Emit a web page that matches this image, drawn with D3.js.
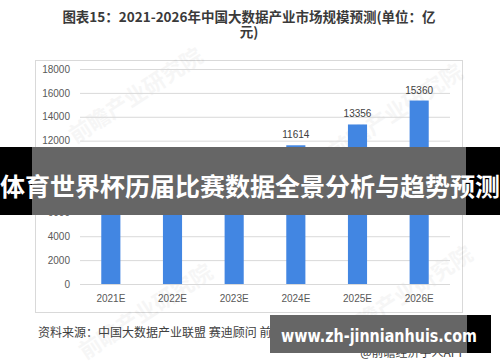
<!DOCTYPE html>
<html>
<head>
<meta charset="utf-8">
<script src="https://cdn.jsdelivr.net/npm/d3@7"></script>
<style>
  body { margin: 0; background: #fff; }
  svg { display: block; }
</style>
</head>
<body>
<svg id="chart" width="500" height="362"></svg>
<script>
// data (2021E is hidden under the banner, estimated)
var years = ["2021E", "2022E", "2023E", "2024E", "2025E", "2026E"];
var values = [7630, 8774, 10099, 11614, 13356, 15360];
var yTicks = [0, 2000, 4000, 6000, 8000, 10000, 12000, 14000, 16000, 18000];

var titleLines = ["图表15：2021-2026年中国大数据产业市场规模预测(单位：亿", "元)"];
var sourceText = "资料来源：中国大数据产业联盟 赛迪顾问 前瞻产业研究院整理";
var bannerText = "体育世界杯历届比赛数据全景分析与趋势预测";
var siteText = "www.zh-jinnianhuis.com";

var cjk = "'Noto Sans CJK SC', 'Noto Sans', sans-serif";
var barColor = "#4286e2";

var svg = d3.select("#chart");

var plot = { left: 80, right: 450, top: 69, bottom: 284 };

var x = d3.scaleBand().domain(years).range([plot.left, plot.right])
  .paddingInner(0.69).paddingOuter(0.345);
var y = d3.scaleLinear().domain([0, 18000]).range([plot.bottom, plot.top]);

// title
svg.selectAll(".title")
  .data(titleLines)
  .enter()
  .append("text")
  .attr("x", 249)
  .attr("y", function (d, i) { return 22 + i * 15; })
  .attr("text-anchor", "middle")
  .attr("font-family", cjk)
  .attr("font-weight", "bold")
  .attr("font-size", "13.5px")
  .attr("fill", "#3a3a3a")
  .text(function (d) { return d; });

// chart frame
svg.append("rect")
  .attr("x", 35.5)
  .attr("y", 60.5)
  .attr("width", 427)
  .attr("height", 252)
  .attr("fill", "#fff")
  .attr("stroke", "#d9d9d9");

// faint watermarks
var marks = [[140, 102], [400, 118], [150, 318], [410, 300]];
svg.selectAll(".wm")
  .data(marks)
  .enter()
  .append("text")
  .attr("transform", function (d) { return "translate(" + d[0] + "," + d[1] + ") rotate(-33)"; })
  .attr("text-anchor", "middle")
  .attr("font-family", cjk)
  .attr("font-weight", "bold")
  .attr("font-size", "22px")
  .attr("fill", "#000")
  .attr("opacity", 0.03)
  .text("前瞻产业研究院");

// gridlines + y labels
var yAxis = d3.axisLeft(y).tickValues(yTicks).tickFormat(d3.format("d"))
  .tickSize(-(plot.right - plot.left)).tickPadding(10);
var gy = svg.append("g")
  .attr("transform", "translate(" + plot.left + ",0)")
  .call(yAxis);
gy.select(".domain").remove();
gy.selectAll(".tick line").attr("stroke", "#d9d9d9");
gy.selectAll(".tick text")
  .attr("font-family", "'Liberation Sans', Arial, sans-serif")
  .attr("font-size", "10px")
  .attr("fill", "#595959");

// x labels
var xAxis = d3.axisBottom(x).tickSize(0).tickPadding(11);
var gx = svg.append("g")
  .attr("transform", "translate(0," + plot.bottom + ")")
  .call(xAxis);
gx.select(".domain").remove();
gx.selectAll(".tick text")
  .attr("font-family", "'Liberation Sans', Arial, sans-serif")
  .attr("font-size", "10px")
  .attr("fill", "#595959");

// bars
svg.selectAll(".bar")
  .data(values)
  .enter()
  .append("rect")
  .attr("x", function (d, i) { return x(years[i]); })
  .attr("y", function (d) { return y(d); })
  .attr("width", x.bandwidth())
  .attr("height", function (d) { return y(0) - y(d); })
  .attr("fill", barColor);

svg.selectAll(".val")
  .data(values)
  .enter()
  .append("text")
  .attr("x", function (d, i) { return x(years[i]) + x.bandwidth() / 2; })
  .attr("y", function (d) { return y(d) - 7; })
  .attr("text-anchor", "middle")
  .attr("font-family", "'Liberation Sans', Arial, sans-serif")
  .attr("font-size", "10px")
  .attr("fill", "#404040")
  .text(function (d) { return d; });

// source
svg.append("text")
  .attr("x", 38)
  .attr("y", 337)
  .attr("font-family", cjk)
  .attr("font-size", "12px")
  .attr("fill", "#404040")
  .text(sourceText);

svg.append("text")
  .attr("x", 466)
  .attr("y", 357)
  .attr("text-anchor", "end")
  .attr("font-family", cjk)
  .attr("font-size", "12px")
  .attr("fill", "#404040")
  .text("@前瞻经济学人APP");

// banner over the middle
svg.append("rect").attr("x", 0).attr("y", 147).attr("width", 500).attr("height", 68).attr("fill", "#000");
svg.append("rect").attr("x", 32).attr("y", 147).attr("width", 434).attr("height", 68).attr("fill", "#fff").attr("opacity", 0);
svg.append("rect").attr("x", 32).attr("y", 147).attr("width", 434).attr("height", 68).attr("fill", "#666");
svg.append("text")
  .attr("x", 250)
  .attr("y", 196)
  .attr("text-anchor", "middle")
  .attr("font-family", cjk)
  .attr("font-weight", "bold")
  .attr("font-size", "25px")
  .attr("textLength", 500)
  .attr("lengthAdjust", "spacingAndGlyphs")
  .attr("fill", "#fff")
  .text(bannerText);

// site tag bottom right
svg.append("rect").attr("x", 270).attr("y", 315).attr("width", 221).attr("height", 38).attr("fill", "#000");
svg.append("rect").attr("x", 270).attr("y", 315).attr("width", 197).attr("height", 38).attr("fill", "#666");
svg.append("text")
  .attr("x", 379)
  .attr("y", 342)
  .attr("text-anchor", "middle")
  .attr("font-family", "'DejaVu Sans', sans-serif")
  .attr("font-weight", "bold")
  .attr("font-size", "18px")
  .attr("textLength", 196)
  .attr("lengthAdjust", "spacingAndGlyphs")
  .attr("fill", "#fff")
  .text(siteText);
</script>
</body>
</html>
